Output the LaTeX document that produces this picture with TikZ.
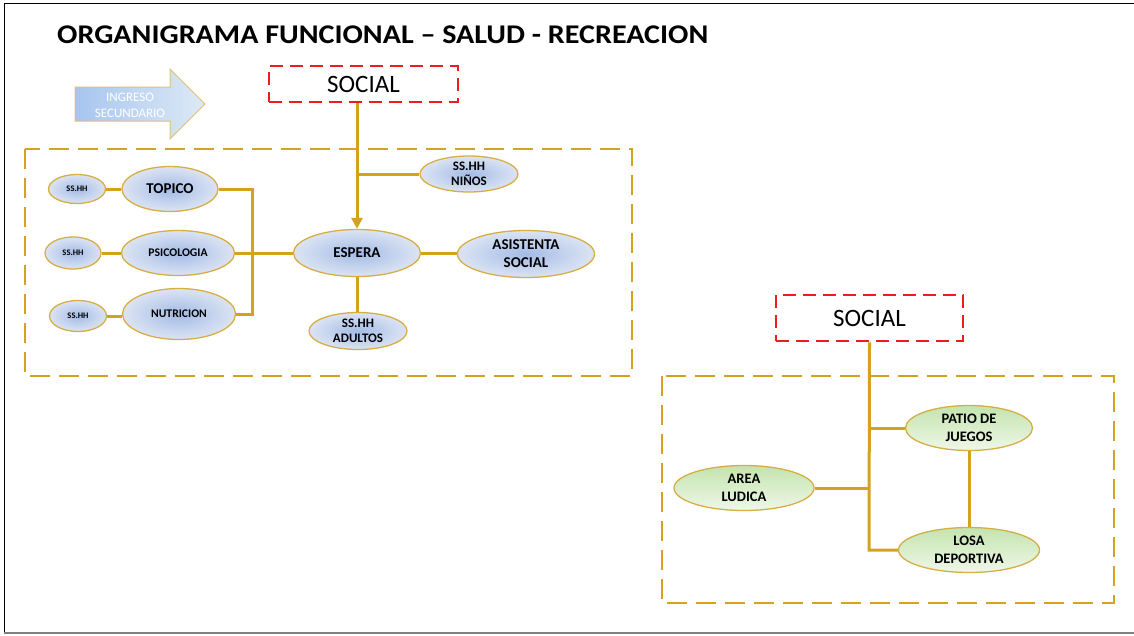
\documentclass[tikz,border=0pt]{standalone}
\usepackage{fontspec}
\setmainfont{Carlito}
\usetikzlibrary{shapes.geometric,arrows.meta}
\definecolor{gold}{HTML}{D4A21E}
\definecolor{ellborder}{HTML}{D6AE45}
\definecolor{blueC}{HTML}{A3BBE6}
\definecolor{blueE}{HTML}{DCE4F3}
\definecolor{greenT}{HTML}{C4E4AE}
\definecolor{greenB}{HTML}{EEF7E8}
\definecolor{arrL}{HTML}{A6C6EE}
\definecolor{arrR}{HTML}{DDE9F8}
\definecolor{arrB}{HTML}{E2C173}
\definecolor{dashred}{HTML}{EE1C1C}
\tikzset{
  blueell/.style={ellipse, draw=ellborder, line width=1.3pt, inner color=blueC, outer color=blueE,
    inner sep=0pt, font=\bfseries, align=center, text=black},
  greenell/.style={ellipse, draw=ellborder, line width=1.3pt, top color=greenT, bottom color=greenB,
    inner sep=0pt, font=\bfseries\fontsize{14.5}{18}\selectfont, align=center, text=black},
  conn/.style={draw=gold, line width=3pt},
  goldbox/.style={draw=gold, line width=2.5pt, dash pattern=on 20pt off 9pt},
  redbox/.style={rectangle, draw=dashred, line width=2.8pt, dash pattern=on 13pt off 7pt,
    inner sep=0pt, font=\fontsize{25}{27}\selectfont, fill=white},
}
\begin{document}
\begin{tikzpicture}[x=1pt,y=-1pt]
\useasboundingbox (0,0) rectangle (1134,635);
% frame
\draw[black, line width=0.8pt] (4,3) -- (1134,3);
\draw[black, line width=0.8pt] (4,3) -- (4,633);
\draw[gray, line width=1.2pt] (4,633) -- (1134,633);

% title
\node[anchor=west, inner sep=0pt, font=\bfseries\fontsize{27}{30}\selectfont] (title) at (57,35)
  {\scalebox{1.115}[1]{ORGANIGRAMA FUNCIONAL – SALUD - RECREACION}};

% ingreso secundario arrow
\shade[left color=arrL, right color=arrR, draw=arrB, line width=1pt]
  (75,87) -- (170,87) -- (170,69) -- (205,104) -- (170,139) -- (170,121) -- (75,121) -- cycle;
\node[text=white, align=center, font=\fontsize{13}{16}\selectfont, inner sep=0pt] (ingreso) at (130,105)
  {INGRESO\\SECUNDARIO};

% containers
\draw[goldbox] (25,149) rectangle (632,376);
\draw[goldbox] (662,376) rectangle (1114,603);

% ---------- left group ----------
\node[redbox, minimum width=189pt, minimum height=36pt] (soc1) at (363.5,84) {SOCIAL};

\node[blueell, minimum width=127pt, minimum height=47pt, font=\bfseries\fontsize{15}{17}\selectfont] (espera) at (357,253) {ESPERA};
\node[blueell, minimum width=98pt, minimum height=36pt, font=\bfseries\fontsize{13}{15}\selectfont] (ninos) at (469,174) {SS.HH\\NIÑOS};
\node[blueell, minimum width=137pt, minimum height=47pt, font=\bfseries\fontsize{15}{18}\selectfont] (asist) at (526,254) {ASISTENTA\\SOCIAL};
\node[blueell, minimum width=98pt, minimum height=37pt, font=\bfseries\fontsize{13}{15}\selectfont] (adultos) at (358,331) {SS.HH\\ADULTOS};

\node[blueell, minimum width=96pt, minimum height=45pt, font=\bfseries\fontsize{15}{17}\selectfont] (topico) at (170,189) {TOPICO};
\node[blueell, minimum width=113pt, minimum height=45pt, font=\bfseries\fontsize{11.7}{13}\selectfont] (psico) at (178,253) {PSICOLOGIA};
\node[blueell, minimum width=113pt, minimum height=51pt, font=\bfseries\fontsize{11.7}{13}\selectfont] (nutri) at (179,314) {NUTRICION};

\node[blueell, minimum width=57pt, minimum height=29pt, font=\bfseries\fontsize{8.5}{9}\selectfont] (hh1) at (77,189) {SS.HH};
\node[blueell, minimum width=56pt, minimum height=32pt, font=\bfseries\fontsize{8.5}{9}\selectfont] (hh2) at (73,253) {SS.HH};
\node[blueell, minimum width=57pt, minimum height=31pt, font=\bfseries\fontsize{8.5}{9}\selectfont] (hh3) at (78,316) {SS.HH};

\coordinate (j1) at (357,174);
\draw[conn, -{Triangle[length=11pt,width=11pt]}] (soc1.south -| espera.north) -- (espera.north);
\draw[conn] (j1) -- (ninos.west);
\draw[conn] (espera.east) -- (espera.east -| asist.west);
\draw[conn] (espera.south) -- (espera.south |- adultos.north);

\coordinate (br) at (252,253);
\draw[conn] (topico.east) -- (topico.east -| br) -- (nutri.east -| br) -- (nutri.east);
\draw[conn] (psico.east) -- (espera.west);
\draw[conn] (hh1.east) -- (topico.west);
\draw[conn] (hh2.east) -- (psico.west);
\draw[conn] (hh3.east) -- (hh3.east -| nutri.west);

% ---------- right group ----------
\node[redbox, minimum width=187pt, minimum height=46pt] (soc2) at (869.5,318) {SOCIAL};

\node[greenell, minimum width=127pt, minimum height=45pt] (patio) at (969,428) {PATIO DE\\JUEGOS};
\node[greenell, minimum width=140pt, minimum height=45pt] (ludica) at (744,488) {AREA\\LUDICA};
\node[greenell, minimum width=141pt, minimum height=45pt] (losa) at (969,550) {LOSA\\DEPORTIVA};

\coordinate (v2) at (869,550);
\draw[conn] (soc2.south) -- (v2) -- (losa.west);
\draw[conn] (patio.west -| soc2.south) -- (patio.west);
\draw[conn] (ludica.east) -- (ludica.east -| soc2.south);
\draw[conn] (patio.south) -- (losa.north);
\end{tikzpicture}
\end{document}
